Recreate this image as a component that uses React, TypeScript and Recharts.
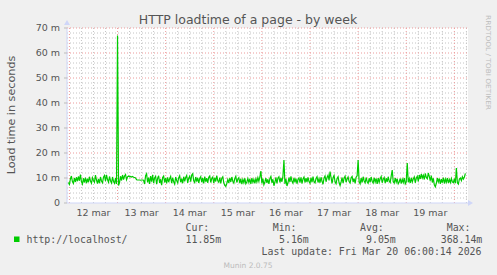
import {
  LineChart, Line, XAxis, YAxis, CartesianGrid, ReferenceLine,
} from "recharts";

// munin "by week" graph: one sample every 30 minutes, hours counted from 12 mar 00:00
const startHour = -0.5;
const stepHours = 0.5;

// load time in milliseconds ("m" on the axis)
const loadMs: number[] = [
  8.2, 7.4, 9.6, 10.8, 8.6, 7.8, 10.0, 8.4, 10.3, 8.7,
  10.6, 8.9, 11.4, 8.6, 7.6, 9.9, 8.2, 10.2, 7.9, 9.7,
  8.3, 10.5, 8.8, 7.9, 10.1, 9.0, 8.3, 11.2, 9.2, 7.8,
  9.6, 7.9, 10.4, 8.8, 8.1, 10.3, 11.0, 8.7, 11.3, 9.4,
  8.3, 10.6, 8.9, 8.0, 10.4, 8.6, 7.9, 10.0, 7.6, 67.0,
  7.0, 8.2, 10.7, 9.0, 11.2, 9.4, 10.8, 11.4, 9.3, 10.5,
  10.8, 10.5, 10.6, 10.4, 10.6, 10.3, 10.2, 10.0, 9.3, 9.2,
  9.2, 9.2, 9.1, 9.2, 9.2, 9.1, 7.6, 10.9, 11.7, 8.2,
  10.2, 7.6, 10.8, 8.5, 11.3, 7.9, 10.0, 10.7, 7.5, 9.8,
  10.9, 8.0, 9.5, 7.1, 10.2, 10.8, 8.2, 10.0, 7.8, 10.3,
  8.3, 9.7, 10.6, 7.9, 10.1, 8.5, 7.6, 10.4, 9.0, 8.1,
  10.0, 10.9, 8.3, 9.7, 7.9, 10.5, 8.7, 10.2, 11.0, 8.0,
  9.9, 10.7, 8.5, 11.2, 11.7, 8.9, 8.2, 10.4, 8.6, 10.1,
  8.0, 9.8, 10.5, 8.3, 10.0, 7.8, 10.6, 8.5, 9.9, 8.1,
  10.3, 10.8, 8.2, 9.8, 10.4, 7.9, 10.1, 8.6, 11.0, 8.9,
  8.3, 10.2, 7.8, 9.9, 10.5, 8.1, 7.0, 6.6, 7.8, 9.4,
  8.0, 10.0, 8.4, 10.4, 8.7, 8.0, 9.8, 10.7, 8.2, 9.5,
  10.1, 7.9, 9.7, 7.5, 9.4, 8.1, 9.9, 7.7, 8.4, 9.8,
  8.2, 9.6, 7.6, 10.0, 8.3, 9.4, 7.9, 9.7, 8.4, 10.1,
  8.7, 10.4, 12.8, 7.8, 9.8, 7.3, 8.4, 10.0, 8.0, 9.5,
  7.6, 9.8, 10.6, 8.1, 9.5, 6.9, 8.3, 10.3, 7.8, 9.9,
  10.5, 8.2, 10.0, 8.5, 10.8, 17.2, 7.6, 9.7, 6.8, 8.0,
  10.2, 8.4, 10.7, 8.7, 7.9, 10.1, 8.3, 9.8, 7.7, 9.4,
  10.0, 8.1, 10.3, 7.8, 9.6, 10.4, 8.2, 9.9, 8.4, 10.2,
  8.6, 7.9, 10.1, 8.3, 10.6, 8.5, 8.0, 9.8, 10.5, 8.2,
  9.7, 8.1, 10.3, 8.7, 7.5, 10.0, 10.8, 8.5, 10.2, 11.1,
  9.0, 12.6, 10.2, 7.8, 10.1, 11.0, 8.5, 7.7, 9.8, 10.5,
  8.1, 7.0, 8.4, 10.2, 7.9, 9.9, 10.7, 8.3, 9.6, 10.4,
  8.6, 8.0, 10.1, 10.6, 8.4, 9.8, 7.8, 10.3, 10.9, 17.2,
  8.5, 7.7, 10.0, 8.2, 10.5, 8.8, 8.1, 10.2, 8.5, 7.9,
  9.9, 8.3, 10.4, 8.7, 8.0, 10.1, 8.4, 9.8, 7.6, 10.0,
  8.3, 9.7, 10.6, 8.1, 9.5, 10.2, 7.9, 9.9, 8.4, 10.5,
  8.7, 8.2, 10.8, 13.2, 8.5, 8.0, 10.0, 8.3, 9.7, 7.7,
  8.4, 9.8, 7.8, 9.5, 8.2, 10.0, 7.7, 8.5, 16.0, 8.3,
  9.7, 8.0, 10.1, 8.4, 9.6, 10.4, 8.1, 9.9, 10.7, 8.6,
  11.2, 9.6, 11.6, 10.0, 11.1, 9.4, 11.8, 10.2, 9.7, 12.0,
  10.6, 8.9, 11.0, 8.2, 9.9, 7.3, 6.5, 7.9, 10.0, 8.4,
  9.8, 7.7, 9.5, 8.1, 10.2, 7.8, 9.6, 8.3, 10.0, 8.0,
  9.4, 8.2, 9.8, 8.4, 8.1, 9.7, 7.9, 14.0, 8.1, 7.6,
  9.6, 10.0, 9.0, 10.5, 9.6, 10.4, 11.85,
];

const dayLabels = ["12 mar", "13 mar", "14 mar", "15 mar", "16 mar", "17 mar", "18 mar", "19 mar"];
const dayLabelHours = [12, 36, 60, 84, 108, 132, 156, 180];
const dayLineHours = [0, 24, 48, 72, 96, 120, 144, 168, 192];
const minorHours = [
  6, 12, 18, 30, 36, 42, 54, 60, 66, 78, 84, 90, 102, 108, 114,
  126, 132, 138, 150, 156, 162, 174, 180, 186, 198,
];
const yTicks = [0, 10, 20, 30, 40, 50, 60, 70];
const minorY = [
  2, 4, 6, 8, 12, 14, 16, 18, 22, 24, 26, 28, 32, 34, 36, 38,
  42, 44, 46, 48, 52, 54, 56, 58, 62, 64, 66, 68,
];

const legendHeaders = ["Cur:", "Min:", "Avg:", "Max:"];
const legendValues = ["11.85m", "5.16m", "9.05m", "368.14m"];

const font = "DejaVu Sans, Verdana, sans-serif";
const mono = "DejaVu Sans Mono, monospace";
const textColor = "#555555";
const minorGrid = "#c4c4c4";
const majorGrid = "#ec9a9a";
const axisColor = "#cfd6f8";
const lineColor = "#00cc00";

const table = loadMs.map((v, i) => ({ t: startHour + i * stepHours, load: v }));

export default function App() {
  return (
    <div style={{ position: "absolute", left: 0, top: 0, width: 497, height: 275, background: "#f0f0f0" }}>
      <LineChart
        width={497}
        height={275}
        data={table}
        margin={{ top: 28, right: 29, left: 0, bottom: 52 }}
      >
        <CartesianGrid fill="#ffffff" stroke="none" horizontal={false} vertical={false} />
        {minorHours.map((h) => (
          <ReferenceLine key={"mx" + h} x={h} stroke={minorGrid} strokeDasharray="1 2" />
        ))}
        {minorY.map((v) => (
          <ReferenceLine key={"my" + v} y={v} stroke={minorGrid} strokeDasharray="1 2" />
        ))}
        {dayLineHours.map((h) => (
          <ReferenceLine key={"dx" + h} x={h} stroke={majorGrid} strokeDasharray="1 2" />
        ))}
        {yTicks.slice(1).map((v) => (
          <ReferenceLine key={"dy" + v} y={v} stroke={majorGrid} strokeDasharray="1 2" />
        ))}
        <XAxis
          dataKey="t"
          type="number"
          domain={[-1.2, 198.8]}
          allowDataOverflow
          ticks={dayLabelHours}
          tickFormatter={(h) => dayLabels[dayLabelHours.indexOf(h)] ?? ""}
          interval={0}
          tickLine={false}
          tickSize={3}
          tickMargin={3}
          height={20}
          axisLine={{ stroke: axisColor }}
          tick={{ fill: textColor, fontSize: 9.5, fontFamily: font }}
        />
        <YAxis
          type="number"
          domain={[0, 70]}
          allowDataOverflow
          ticks={yTicks}
          interval={0}
          width={67}
          tickSize={3}
          tickMargin={4}
          tickFormatter={(v) => (v === 0 ? "0" : `${v} m`)}
          axisLine={{ stroke: axisColor }}
          tickLine={{ stroke: "#bbbbbb" }}
          tick={{ fill: textColor, fontSize: 9.5, fontFamily: font }}
        />
        <Line
          type="linear"
          dataKey="load"
          stroke={lineColor}
          strokeWidth={1.2}
          dot={false}
          isAnimationActive={false}
        />
      </LineChart>

      <svg
        width={497}
        height={275}
        style={{ position: "absolute", left: 0, top: 0, pointerEvents: "none" }}
      >
        <text x={248} y={24} textAnchor="middle" fontFamily={font} fontSize={12.5} fill={textColor}>
          HTTP loadtime of a page - by week
        </text>
        <text
          x={15}
          y={115}
          textAnchor="middle"
          transform="rotate(-90 15 115)"
          fontFamily={font}
          fontSize={11.2}
          fill={textColor}
        >
          Load time in seconds
        </text>
        <text
          x={485.5}
          y={15}
          transform="rotate(90 485.5 15)"
          fontFamily={font}
          fontSize={6.6}
          fill="#bdbdbd"
          textLength={95}
          lengthAdjust="spacingAndGlyphs"
        >
          RRDTOOL / TOBI OETIKER
        </text>
        {/* axis arrows */}
        <polygon points="64,25 70,25 67,20" fill={axisColor} />
        <polygon points="468,200 468,206 473,203" fill={axisColor} />

        {legendHeaders.map((h, i) => (
          <text key={h} x={[185.5, 272.7, 360, 446.7][i]} y={230.7} fontFamily={mono} fontSize={9.9} fill={textColor}>
            {h}
          </text>
        ))}
        <rect x={14} y={236.5} width={5.5} height={5.5} fill={lineColor} />
        <text x={26.5} y={242.7} fontFamily={mono} fontSize={9.9} fill={textColor}>
          http://localhost/
        </text>
        {legendValues.map((v, i) => (
          <text key={v} x={[185.5, 279, 366, 440.7][i]} y={242.7} fontFamily={mono} fontSize={9.9} fill={textColor}>
            {v}
          </text>
        ))}
        <text x={261.5} y={255} fontFamily={mono} fontSize={9.9} fill={textColor}>
          Last update: Fri Mar 20 06:00:14 2026
        </text>
        <text x={248} y={267.5} textAnchor="middle" fontFamily={font} fontSize={7.5} fill="#bbbbbb">
          Munin 2.0.75
        </text>
      </svg>
    </div>
  );
}
